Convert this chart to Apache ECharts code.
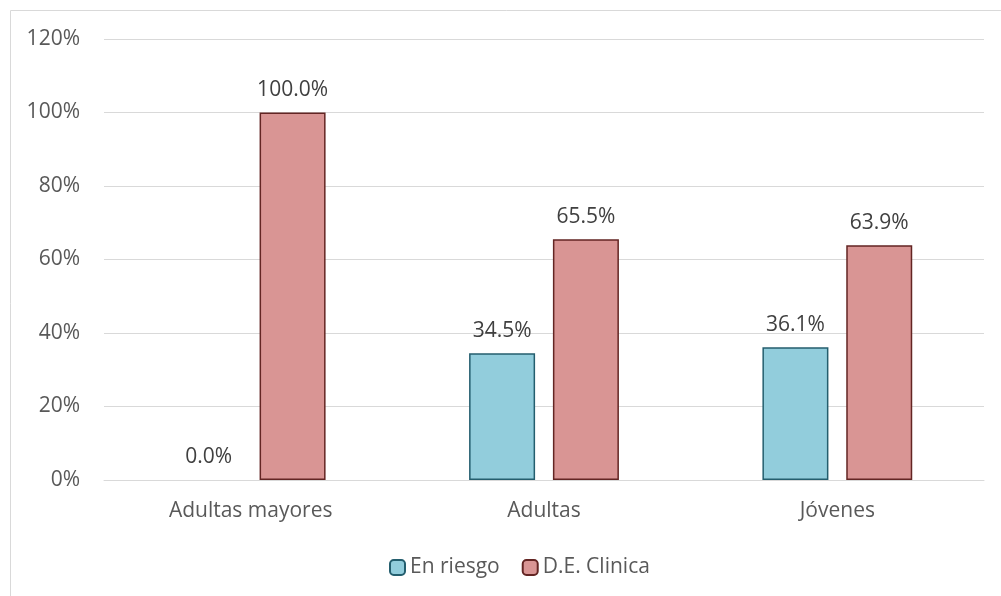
<!DOCTYPE html>
<html><head><meta charset="utf-8">
<script src="https://cdn.jsdelivr.net/npm/echarts@6/dist/echarts.min.js"></script>
<style>html,body{margin:0;padding:0;background:#fff}#c{width:1001px;height:596px}</style>
</head><body><div id="c"></div>
<script>
var categories = ['Adultas mayores', 'Adultas', 'Jóvenes'];
var enRiesgo = [0.0, 34.5, 36.1];
var deClinica = [100.0, 65.5, 63.9];
var seriesNames = ['En riesgo', 'D.E. Clinica'];

var font = '"Open Sans", sans-serif';
var fs = 21;
var chart = echarts.init(document.getElementById('c'));
var lbl = {show: true, position: 'top', distance: 12, color: '#404040', fontSize: fs, fontFamily: font,
  formatter: function(p){ return p.value.toFixed(1) + '%'; }};
function items(arr){
  return arr.map(function(v){ return v === 0 ? {value: v, itemStyle: {borderWidth: 0}} : v; });
}
chart.setOption({
  animation: false,
  graphic: [{type: 'rect', shape: {x: 10.5, y: 10.5, width: 1000, height: 600}, style: {fill: 'none', stroke: '#d9d9d9', lineWidth: 1}}],
  grid: {left: 104, right: 17, top: 39, bottom: 116},
  legend: {top: 552, left: 384, itemWidth: 15, itemHeight: 15, itemGap: 22,
    textStyle: {color: '#595959', fontSize: fs, fontFamily: font}, data: seriesNames},
  xAxis: {type: 'category', data: categories,
    axisLine: {lineStyle: {color: '#d9d9d9', width: 1}}, axisTick: {show: false},
    axisLabel: {color: '#595959', fontSize: fs, fontFamily: font, margin: 21}},
  yAxis: {type: 'value', min: 0, max: 120, interval: 20,
    axisLabel: {color: '#595959', fontSize: fs, fontFamily: font, margin: 24, formatter: '{value}%'},
    splitLine: {lineStyle: {color: '#d9d9d9', width: 1}}, axisLine: {show: false}, axisTick: {show: false}},
  series: [
    {name: seriesNames[0], type: 'bar', data: items(enRiesgo), barWidth: '22.5%', barGap: '27%',
     itemStyle: {color: '#92cddc', borderColor: '#245e6e', borderWidth: 1.5}, label: lbl},
    {name: seriesNames[1], type: 'bar', data: items(deClinica), barWidth: '22.5%',
     itemStyle: {color: '#d99594', borderColor: '#632523', borderWidth: 1.5}, label: lbl}
  ]
});
</script></body></html>
